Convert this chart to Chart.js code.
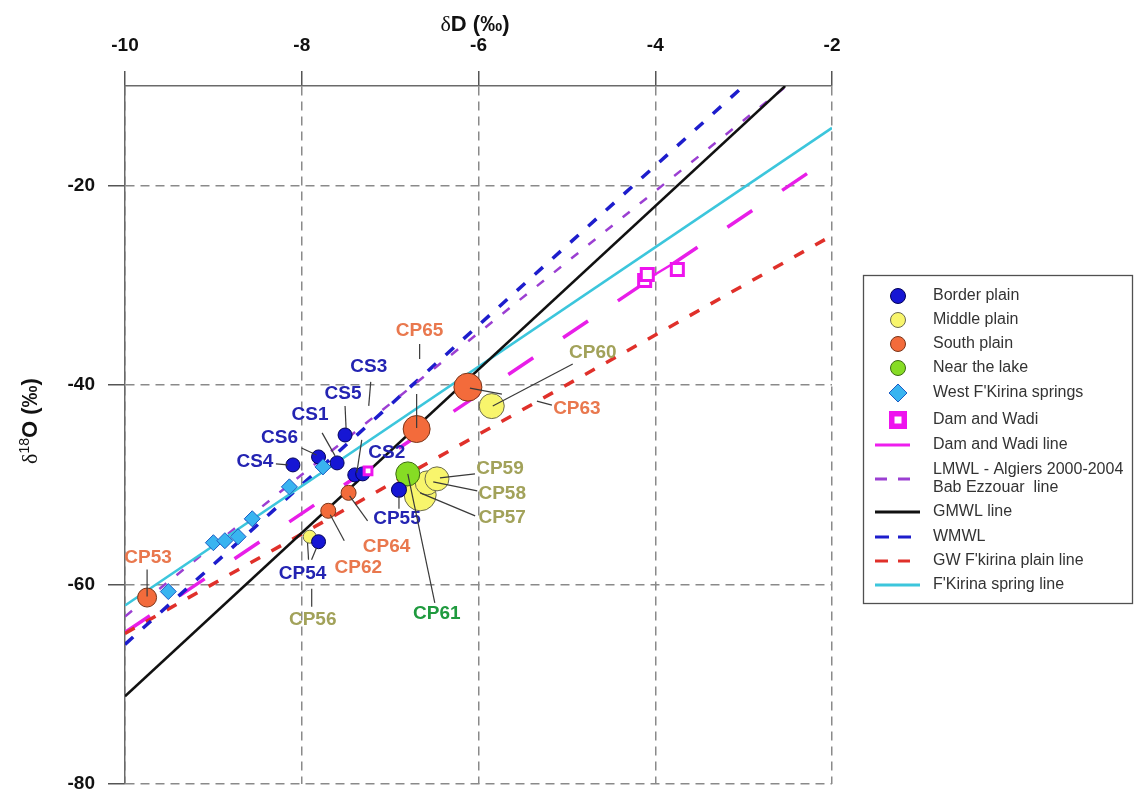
<!DOCTYPE html>
<html>
<head>
<meta charset="utf-8">
<script src="https://cdn.jsdelivr.net/npm/chart.js@4/dist/chart.umd.min.js"></script>
<style>
  html, body { margin: 0; padding: 0; background: #ffffff; }
  #wrap { width: 1134px; height: 801px; position: relative; }
</style>
</head>
<body>
<div id="wrap"><canvas id="chart" width="1134" height="801"></canvas></div>
<script>
// ---- axis ticks ----
const xTicks = [-10, -8, -6, -4, -2];
const yTicks = [-80, -60, -40, -20];

// ---- sample groups (x = δ value on top axis, y = δ value on left axis) ----
const borderNames = ['CS5', 'CS6', 'CS1', 'CS4', 'CS2', 'CS3', 'CP55', 'CP54'];
const borderX = [-7.51, -7.81, -7.60, -8.10, -7.40, -7.31, -6.90, -7.81];
const borderY = [-45.0, -47.2, -47.8, -48.0, -49.0, -48.9, -50.5, -55.7];

const middleNames = ['CP56', 'CP57', 'CP58', 'CP59', 'CP60'];
const middleX = [-7.91, -6.66, -6.58, -6.47, -5.85];
const middleY = [-55.2, -51.0, -49.8, -49.4, -42.1];

const southNames = ['CP53', 'CP62', 'CP64', 'CP65', 'CP63'];
const southX = [-9.75, -7.70, -7.47, -6.70, -6.12];
const southY = [-61.3, -52.6, -50.8, -44.4, -40.2];

const lakeNames = ['CP61'];
const lakeX = [-6.80];
const lakeY = [-48.9];

const springX = [-9.51, -9.00, -8.87, -8.72, -8.56, -8.14, -7.76];
const springY = [-60.7, -55.8, -55.6, -55.2, -53.4, -50.2, -48.2];

const damX = [-7.25, -4.12, -4.09, -3.75];
const damY = [-48.6, -29.5, -28.9, -28.4];

// ---- reference / regression lines (end points) ----
const damLineX = [-4.06, -3.74];
const damLineY = [-29.2, -27.5];
const lmwlX = [-10, -2.53];
const lmwlY = [-63.2, -10.1];
const gmwlX = [-10, -2.53];
const gmwlY = [-71.2, -10.0];
const wmwlX = [-10, -3.0];
const wmwlY = [-66.0, -10.0];
const gwX = [-10, -2];
const gwY = [-64.9, -25.0];
const springLineX = [-10, -2];
const springLineY = [-62.1, -14.2];
const damTrendX = [-10, -2];
const damTrendY = [-64.8, -17.1];

// ---- marker radii (px) ----
const borderRadius = [7, 7, 7, 7, 7, 7, 7.5, 7];
const middleRadius = [6.5, 16, 12, 12, 12.5];
const southRadius = [9.5, 7.5, 7.5, 13.5, 14];
const lakeRadius = [12];
const damRadius = [5.5, 8.5, 8.5, 8.5];

// ---- label placement: text offset and leader segments, in px from the marker ----
const labelPlacement = {
  CS5:  { dx: -2,  dy: -41,  lead: [[0, -29, 1, -7]] },
  CS6:  { dx: -39, dy: -19,  lead: [[-17, -9, -2, -2]] },
  CS1:  { dx: -27, dy: -48,  lead: [[-15, -30, -2, -7]] },
  CS4:  { dx: -38, dy: -3,   lead: [[-17, -1, -5, 0]] },
  CS2:  { dx: 32,  dy: -22,  lead: [[7, -35, 2, -2]] },
  CS3:  { dx: 6,   dy: -107, lead: [[8, -92, 6, -68]] },
  CP55: { dx: -2,  dy: 29,   lead: [[0, 6, 0, 19]] },
  CP54: { dx: -16, dy: 32,   lead: [[-10, 18, -11, 1], [-7, 18, -2, 6]] },
  CP56: { dx: 3,   dy: 83,   lead: [[2, 52, 2, 70]] },
  CP57: { dx: 82,  dy: 23,   lead: [[55, 21, 0, -2]] },
  CP58: { dx: 75,  dy: 11,   lead: [[50, 8, 6, -1]] },
  CP59: { dx: 63,  dy: -10,  lead: [[38, -5, 3, -1]] },
  CP60: { dx: 101, dy: -53,  lead: [[81, -42, 1, 0]] },
  CP53: { dx: 1,   dy: -40,  lead: [[0, -28, 0, -1]] },
  CP62: { dx: 30,  dy: 57,   lead: [[16, 30, 2, 4]] },
  CP64: { dx: 38,  dy: 54,   lead: [[19, 28, 1, 3]] },
  CP65: { dx: 3,   dy: -98,  lead: [[3, -85, 3, -70], [0, -35, 0, -1]] },
  CP63: { dx: 109, dy: 22,   lead: [[2, 1, 34, 7], [69, 14, 84, 18]] },
  CP61: { dx: 29,  dy: 140,  lead: [[27, 129, 0, 0]] }
};

const FONT = "'Liberation Sans', Arial, Helvetica, sans-serif";
const toPts = (xs, ys) => xs.map((x, i) => ({ x: x, y: ys[i] }));

function pointSet(label, names, xs, ys, radius, fill, edge, textColor, order, shape) {
  return {
    label: label,
    names: names,
    labelColor: textColor,
    data: toPts(xs, ys),
    showLine: false,
    pointStyle: shape || 'circle',
    pointRadius: radius,
    pointBackgroundColor: fill,
    pointBorderColor: edge,
    pointBorderWidth: 1,
    order: order,
    kind: 'point'
  };
}

function lineSet(label, xs, ys, color, width, dash, legendDash, legendLen, order, hidden) {
  return {
    label: label,
    data: toPts(xs, ys),
    showLine: true,
    pointRadius: 0,
    borderColor: color,
    borderWidth: width,
    borderDash: dash,
    borderCapStyle: 'butt',
    fill: false,
    order: order,
    kind: 'line',
    legendDash: legendDash,
    legendLen: legendLen,
    hideInLegend: !!hidden
  };
}

const datasets = [
  pointSet('Border plain', borderNames, borderX, borderY, borderRadius, '#1616d4', '#000058', '#2424b2', 0),
  pointSet('Middle plain', middleNames, middleX, middleY, middleRadius, '#f8f56c', '#6a6a50', '#a2a25a', 3),
  pointSet('South plain', southNames, southX, southY, southRadius, '#f36b3b', '#7a3418', '#e9784e', 2),
  pointSet('Near the lake', lakeNames, lakeX, lakeY, lakeRadius, '#86dc24', '#3d6a12', '#1f9a3e', 1),
  Object.assign(pointSet("West F'Kirina springs", null, springX, springY, 8, '#39b4f0', '#1c5cc4', null, -1, 'rectRot')),
  Object.assign(pointSet('Dam and Wadi', null, damX, damY, damRadius, '#ffffff', '#ee14ee', null, -2, 'rect'), { pointBorderWidth: 3 }),
  lineSet('Dam and Wadi line', damLineX, damLineY, '#ee1eee', 2.5, [], [], 35, 9),
  lineSet('LMWL - Algiers 2000-2004\nBab Ezzouar  line', lmwlX, lmwlY, '#9b3fd2', 2.5, [9, 13], [12, 11], 35, 12),
  lineSet('GMWL line', gmwlX, gmwlY, '#111111', 2.5, [], [], 45, 10),
  lineSet('WMWL', wmwlX, wmwlY, '#1d1dcc', 3.5, [11, 13], [14, 9], 36, 13),
  lineSet("GW F'kirina plain line", gwX, gwY, '#e0302a', 3.5, [11, 13], [13, 10], 35, 14),
  lineSet("F'Kirina spring line", springLineX, springLineY, '#3cc6dc', 2.5, [], [], 45, 11),
  lineSet('Dam and Wadi trend', damTrendX, damTrendY, '#e81ee8', 3.5, [30, 36], [], 0, 15, true)
];

// ---- legend rows ----
const legendRowY = [296, 320, 344, 368, 393, 420, 445, 479, 512, 537, 561, 585];

const pointLabels = {
  id: 'pointLabels',
  afterDatasetsDraw(chart) {
    const ctx = chart.ctx;
    chart.data.datasets.forEach((ds, di) => {
      if (!ds.names) return;
      const meta = chart.getDatasetMeta(di);
      ds.names.forEach((n, i) => {
        const p = labelPlacement[n];
        if (!p) return;
        const el = meta.data[i];
        const x = el.x, y = el.y;
        ctx.save();
        ctx.strokeStyle = '#3a3a3a';
        ctx.lineWidth = 1.2;
        p.lead.forEach(s => {
          ctx.beginPath();
          ctx.moveTo(x + s[0], y + s[1]);
          ctx.lineTo(x + s[2], y + s[3]);
          ctx.stroke();
        });
        ctx.fillStyle = ds.labelColor;
        ctx.font = 'bold 19px ' + FONT;
        ctx.textAlign = 'center';
        ctx.textBaseline = 'middle';
        ctx.fillText(n, x + p.dx, y + p.dy);
        ctx.restore();
      });
    });
  }
};

function drawPieces(ctx, pieces, cx, base) {
  let w = 0;
  pieces.forEach(p => { ctx.font = p.font; p.w = ctx.measureText(p.t).width; w += p.w; });
  let x = cx - w / 2;
  pieces.forEach(p => { ctx.font = p.font; ctx.fillText(p.t, x, base + (p.dy || 0)); x += p.w; });
}

const axisTitles = {
  id: 'axisTitles',
  afterDraw(chart) {
    const ctx = chart.ctx;
    ctx.save();
    ctx.fillStyle = '#111111';
    ctx.textBaseline = 'alphabetic';
    ctx.textAlign = 'left';
    drawPieces(ctx, [
      { t: 'δ', font: "22px 'Liberation Serif', serif" },
      { t: 'D (‰)', font: 'bold 22px ' + FONT }
    ], 475, 31);
    ctx.translate(37, 421);
    ctx.rotate(-Math.PI / 2);
    drawPieces(ctx, [
      { t: 'δ', font: "22px 'Liberation Serif', serif" },
      { t: '18', font: '14px ' + FONT, dy: -8 },
      { t: 'O (‰)', font: 'bold 22px ' + FONT }
    ], 0, 0);
    ctx.restore();
  }
};

function legendSymbol(ctx, ds, x0, y) {
  ctx.save();
  if (ds.kind === 'line') {
    ctx.strokeStyle = ds.borderColor;
    ctx.lineWidth = 3;
    ctx.setLineDash(ds.legendDash);
    ctx.beginPath();
    ctx.moveTo(x0, y);
    ctx.lineTo(x0 + ds.legendLen, y);
    ctx.stroke();
  } else {
    const cx = x0 + 23;
    if (ds.pointStyle === 'circle') {
      ctx.beginPath();
      ctx.arc(cx, y, 7.5, 0, Math.PI * 2);
      ctx.fillStyle = ds.pointBackgroundColor;
      ctx.fill();
      ctx.strokeStyle = ds.pointBorderColor;
      ctx.lineWidth = 1;
      ctx.stroke();
    } else if (ds.pointStyle === 'rectRot') {
      ctx.beginPath();
      ctx.moveTo(cx, y - 9); ctx.lineTo(cx + 9, y); ctx.lineTo(cx, y + 9); ctx.lineTo(cx - 9, y);
      ctx.closePath();
      ctx.fillStyle = ds.pointBackgroundColor;
      ctx.fill();
      ctx.strokeStyle = ds.pointBorderColor;
      ctx.lineWidth = 1;
      ctx.stroke();
    } else {
      ctx.fillStyle = ds.pointBorderColor;
      ctx.fillRect(cx - 9, y - 9, 18, 18);
      ctx.fillStyle = '#ffffff';
      ctx.fillRect(cx - 3.5, y - 3.5, 7, 7);
    }
  }
  ctx.restore();
}

const boxLegend = {
  id: 'boxLegend',
  afterDraw(chart) {
    const ctx = chart.ctx;
    ctx.save();
    ctx.fillStyle = '#ffffff';
    ctx.fillRect(863.5, 275.5, 269, 328);
    ctx.strokeStyle = '#505050';
    ctx.lineWidth = 1.3;
    ctx.strokeRect(863.5, 275.5, 269, 328);
    const items = chart.data.datasets.filter(d => !d.hideInLegend);
    ctx.font = '16px ' + FONT;
    ctx.fillStyle = '#333333';
    ctx.textBaseline = 'middle';
    ctx.textAlign = 'left';
    items.forEach((ds, i) => {
      const y = legendRowY[i];
      legendSymbol(ctx, ds, 875, y);
      const lines = ds.label.split('\n');
      lines.forEach((t, k) => {
        ctx.fillStyle = '#333333';
        ctx.font = '16px ' + FONT;
        ctx.fillText(t, 933, y + (k - (lines.length - 1) / 2) * 18);
      });
    });
    ctx.restore();
  }
};

const gridColor = '#8a8a8a';

new Chart(document.getElementById('chart'), {
  type: 'scatter',
  data: { datasets: datasets },
  options: {
    responsive: false,
    animation: false,
    devicePixelRatio: 1,
    events: [],
    layout: { padding: { left: 0, top: 0, right: 302, bottom: 9 } },
    plugins: { legend: { display: false }, tooltip: { enabled: false } },
    scales: {
      x: {
        type: 'linear',
        position: 'top',
        min: -10,
        max: -2,
        afterBuildTicks: s => { s.ticks = xTicks.map(v => ({ value: v })); },
        afterFit: s => { s.height = 86; s.paddingLeft = 0; s.paddingRight = 0; },
        grid: { color: gridColor, lineWidth: 1.5, tickLength: 15, tickColor: '#555555', tickWidth: 1.5 },
        border: { display: true, color: '#6a6a6a', width: 1.5, dash: [9, 6] },
        ticks: { font: { family: FONT, size: 19, weight: 'bold' }, color: '#111111', padding: 14, maxRotation: 0 },
        title: { display: false }
      },
      y: {
        type: 'linear',
        position: 'left',
        min: -80,
        max: -10,
        afterBuildTicks: s => { s.ticks = yTicks.map(v => ({ value: v })); },
        afterFit: s => { s.width = 125; s.paddingTop = 0; s.paddingBottom = 0; },
        grid: { color: gridColor, lineWidth: 1.5, tickLength: 17, tickColor: '#555555', tickWidth: 1.5 },
        border: { display: true, color: '#6a6a6a', width: 1.5, dash: [9, 6] },
        ticks: { font: { family: FONT, size: 19, weight: 'bold' }, color: '#111111', padding: 13 },
        title: { display: false }
      }
    }
  },
  plugins: [pointLabels, axisTitles, boxLegend]
});
</script>
</body>
</html>
